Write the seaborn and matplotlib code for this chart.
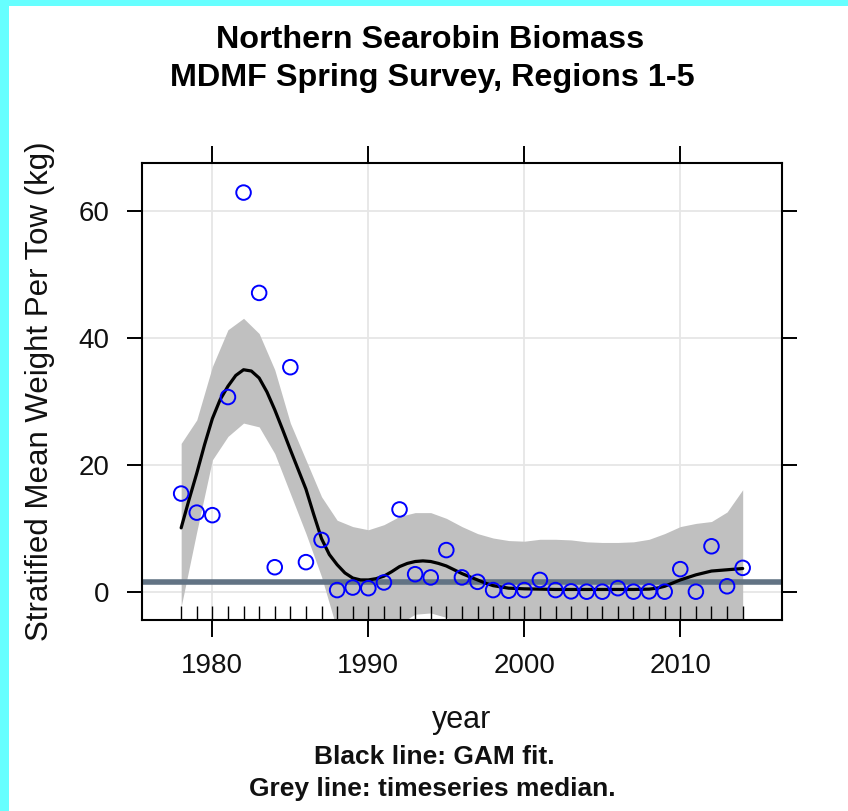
import matplotlib
matplotlib.use("Agg")
import matplotlib.pyplot as plt
from matplotlib.patches import Rectangle
import seaborn as sns
import pandas as pd

# ---------------- data ----------------
years = list(range(1978, 2015))
biomass = [15.5, 12.5, 12.1, 30.7, 62.9, 47.1, 3.9, 35.4, 4.7, 8.2,
           0.3, 0.7, 0.6, 1.5, 13.0, 2.8, 2.3, 6.6, 2.3, 1.6,
           0.3, 0.2, 0.3, 1.9, 0.3, 0.1, 0.05, 0.05, 0.6, 0.05,
           0.1, 0.05, 3.6, 0.05, 7.2, 0.9, 3.8]
gam_upper = [23.4, 27.1, 35.5, 41.3, 43.1, 40.7, 35.0, 26.6, 20.8, 15.0,
             11.3, 10.3, 9.8, 10.6, 11.9, 12.5, 12.5, 11.6, 10.3, 9.2,
             8.5, 8.1, 8.0, 8.3, 8.3, 8.2, 7.9, 7.8, 7.8, 7.9,
             8.3, 9.2, 10.3, 10.8, 11.1, 12.6, 16.1]
gam_lower = [-2.3, 9.5, 20.8, 24.5, 26.6, 26.0, 21.8, 15.5, 9.2, 2.4,
             -6.0, -8.0, -8.0, -7.0, -5.0, -3.5, -3.3, -4.0, -5.5, -6.5,
             -7.0, -7.0, -7.0, -7.0, -7.0, -7.0, -7.0, -7.0, -7.0, -7.0,
             -7.0, -7.5, -6.5, -5.5, -4.5, -5.5, -8.7]
# GAM curve, read every half year off the picture
fit_years = [1978.0, 1978.5, 1979.0, 1979.5, 1980.0, 1980.5, 1981.0, 1981.5,
             1982.0, 1982.5, 1983.0, 1983.5, 1984.0, 1984.5, 1985.0, 1985.5,
             1986.0, 1986.5, 1987.0, 1987.5, 1988.0, 1988.5, 1989.0, 1989.5,
             1990.0, 1990.5, 1991.0, 1991.5, 1992.0, 1992.5, 1993.0, 1993.5,
             1994.0, 1994.5, 1995.0, 1995.5, 1996.0, 1996.5, 1997.0, 1997.5,
             1998.0, 1999.0, 2000.0, 2001.0, 2002.0, 2003.0, 2004.0, 2005.0,
             2006.0, 2007.0, 2008.0, 2008.5, 2009.0, 2009.5, 2010.0, 2010.5,
             2011.0, 2011.5, 2012.0, 2013.0, 2014.0]
fit_values = [10.1, 14.5, 18.7, 23.2, 27.3, 30.3, 32.4, 34.1,
              35.0, 34.8, 33.7, 31.5, 28.7, 25.6, 22.4, 19.3,
              16.2, 12.2, 8.4, 5.9, 4.3, 3.0, 2.2, 1.9,
              1.9, 2.1, 2.5, 3.2, 4.0, 4.5, 4.8, 4.9,
              4.8, 4.5, 4.1, 3.5, 2.9, 2.4, 1.9, 1.4,
              1.0, 0.6, 0.5, 0.45, 0.4, 0.4, 0.4, 0.4,
              0.4, 0.4, 0.45, 0.6, 0.9, 1.4, 1.9, 2.3,
              2.7, 3.0, 3.3, 3.5, 3.7]
median_value = 1.5
x_ticks = [1980, 1990, 2000, 2010]
y_ticks = [0, 20, 40, 60]

title_lines = ["Northern Searobin Biomass", "MDMF Spring Survey, Regions 1-5"]
caption_lines = ["Black line: GAM fit.", "Grey line: timeseries median."]
x_label = "year"
y_label = "Stratified Mean Weight Per Tow (kg)"

df = pd.DataFrame({"year": years, "biomass": biomass,
                   "upper": gam_upper, "lower": gam_lower})
fit_df = pd.DataFrame({"year": fit_years, "fit": fit_values})

# ---------------- style ----------------
sns.set_theme(style="white")
plt.rcParams["font.family"] = ["Liberation Sans", "DejaVu Sans"]

W, H = 848, 811
fig = plt.figure(figsize=(W / 100, H / 100), dpi=100)
fig.patch.set_facecolor("white")

# cyan frame strips (left and top)
cyan = "#66ffff"
fig.patches.append(Rectangle((0, 0), 9 / W, 1, transform=fig.transFigure,
                             facecolor=cyan, edgecolor="none", zorder=0))
fig.patches.append(Rectangle((0, 1 - 6 / H), 1, 6 / H, transform=fig.transFigure,
                             facecolor=cyan, edgecolor="none", zorder=0))

left, right, top, bottom = 141.7, 782.3, 163.3, 620.0
ax = fig.add_axes([left / W, 1 - bottom / H, (right - left) / W, (bottom - top) / H])
ax.set_facecolor("white")

# grid
for xv in x_ticks:
    ax.axvline(xv, color="#e6e6e6", lw=1.3, zorder=0)
for yv in y_ticks:
    ax.axhline(yv, color="#e6e6e6", lw=1.3, zorder=0)

# confidence band
ax.fill_between(df["year"], df["lower"], df["upper"], color="#c0c0c0",
                lw=0, zorder=1)

# median line
ax.axhline(median_value, color="#627384", lw=4.0, zorder=2)

# rug
sns.rugplot(data=df, x="year", height=0.031, color="black", lw=1.8,
            ax=ax, zorder=3)

# GAM fit
sns.lineplot(data=fit_df, x="year", y="fit", color="black", lw=2.3, ax=ax,
             zorder=4)

# points
sns.scatterplot(data=df, x="year", y="biomass", s=110, marker="o",
                facecolor="none", edgecolor="#0000ff", linewidth=1.4,
                ax=ax, zorder=5)

ax.set_xlim(1975.47, 2016.54)
ax.set_ylim(-4.41, 67.51)
ax.set_xticks(x_ticks)
ax.set_yticks(y_ticks)
ax.set_xticklabels([str(v) for v in x_ticks])
ax.set_yticklabels([str(v) for v in y_ticks])

for sp in ax.spines.values():
    sp.set_visible(True)
    sp.set_color("black")
    sp.set_linewidth(1.5)

ax.tick_params(axis="x", which="major", direction="out", length=12,
               width=1.4, color="black", labelsize=20, pad=12,
               top=True, bottom=True, labeltop=False, labelcolor="#111111")
ax.tick_params(axis="y", which="major", direction="out", length=11,
               width=1.4, color="black", labelsize=20, pad=12,
               left=True, right=True, labelright=False, labelcolor="#111111")

ax.set_xlabel(x_label, fontsize=22, color="#111111")
ax.set_ylabel(y_label, fontsize=22.5, color="#111111", va="center")
ax.xaxis.set_label_coords(0.5, (bottom - 720) / (bottom - top))
ax.yaxis.label.set_va("center")
ax.xaxis.label.set_va("center")
ax.yaxis.set_label_coords((40 - left) / (right - left), 0.5)

# titles and captions
fig.text(430 / W, 1 - 40 / H, title_lines[0], ha="center", va="center",
         fontsize=23.3, fontweight="bold", color="black")
fig.text(432 / W, 1 - 78 / H, title_lines[1], ha="center", va="center",
         fontsize=23.3, fontweight="bold", color="black")
fig.text(434 / W, 1 - 757 / H, caption_lines[0], ha="center", va="center",
         fontsize=19, fontweight="bold", color="#111111")
fig.text(432 / W, 1 - 789 / H, caption_lines[1], ha="center", va="center",
         fontsize=19, fontweight="bold", color="#111111")

fig.savefig("out.png", dpi=100, facecolor="white")
